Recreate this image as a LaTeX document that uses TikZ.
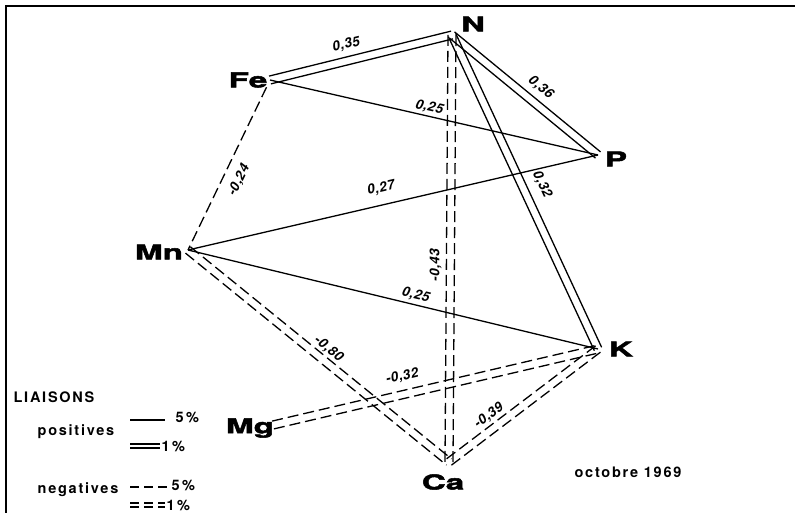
\documentclass[tikz,border=0pt]{standalone}
\usepackage{fontspec}
\setmainfont{TeX Gyre Heros}
\newfontfamily\elemfont[FakeBold=2.5,FakeStretch=1.62]{TeX Gyre Heros}
\newfontfamily\legfont[LetterSpace=12]{TeX Gyre Heros}
\newfontfamily\coeffont[LetterSpace=4]{TeX Gyre Heros}
\usetikzlibrary{calc}
\newcommand{\twin}[3][]{%
  \draw[#1] ($(#2)!4pt!90:(#3)$) -- ($(#3)!4pt!-90:(#2)$);
  \draw[#1] ($(#2)!4pt!-90:(#3)$) -- ($(#3)!4pt!90:(#2)$);}
\tikzset{
  elem/.style={font=\elemfont\bfseries\fontsize{20.5}{20.5}\selectfont, inner sep=0pt},
  coef/.style={font=\coeffont\bfseries\itshape\fontsize{13.5}{13.5}\selectfont, inner sep=1pt, sloped},
  legend/.style={font=\legfont\bfseries\fontsize{14.5}{14.5}\selectfont, inner sep=0pt},
  neg/.style={dash pattern=on 11pt off 5pt},
  negkey/.style={dash pattern=on 9pt off 5pt},
}
\begin{document}
\begin{tikzpicture}[x=1pt,y=-1pt,line width=1.3pt]
  \useasboundingbox (0,0) rectangle (795,513);
  \draw[line width=1.8pt] (6,513) -- (6,6) -- (795,6);
  \coordinate (n) at (452,35);
  \coordinate (fe) at (270,80);
  \coordinate (p) at (598,155);
  \coordinate (mn) at (188,250);
  \coordinate (k) at (598,349);
  \coordinate (mg) at (273,425);
  \coordinate (ca) at (449,462);
  \node[elem] (ln) at (473,24) {N};
  \node[elem] (lfe) at (248,80) {Fe};
  \node[elem] (lp) at (616,159) {P};
  \node[elem] (lmn) at (159,252) {Mn};
  \node[elem] (lk) at (621,349) {K};
  \node[elem] (lmg) at (250,428) {Mg};
  \node[elem] (lca) at (443,482) {Ca};
  \twin{fe}{n}
  \twin{n}{p}
  \twin{n}{k}
  \twin[neg]{n}{ca}
  \twin[neg]{mn}{ca}
  \twin[neg]{mg}{k}
  \twin[neg]{ca}{k}
  \draw (fe) -- (p);
  \draw (mn) -- (p);
  \draw (mn) -- (k);
  \draw[neg, shorten <=8pt] (fe) -- (mn);
  \path (fe) -- (n) node[coef, pos=.44, above=8pt] (c1) {0,35};
  \path (n) -- (p) node[coef, pos=.54, above=8pt] (c2) {0,36};
  \path (fe) -- (p) node[coef, pos=.48, above=1pt] (c3) {0,25};
  \path (n) -- (k) node[coef, pos=.5, above=11pt] (c4) {0,32};
  \path (fe) -- (mn) node[coef, pos=.55, below=8pt] (c5) {-0,24};
  \path (mn) -- (p) node[coef, pos=.48, above=9pt] (c6) {0,27};
  \path (ca) -- (n) node[coef, pos=.46, above=7pt] (c7) {-0,43};
  \path (mn) -- (k) node[coef, pos=.55, above=2pt] (c8) {0,25};
  \path (mn) -- (ca) node[coef, pos=.51, above=4pt] (c9) {-0,80};
  \path (mg) -- (k) node[coef, pos=.41, above=10pt] (c10) {-0,32};
  \path (ca) -- (k) node[coef, pos=.32, above=5pt] (c11) {-0,39};
  \node[legend, anchor=west] (liaisons) at (13,397) {LIAISONS};
  \node[legend] (positives) at (76,432) {positives};
  \node[legend] (negatives) at (78,490) {negatives};
  \draw (130,420) -- (165,420);
  \node[legend, anchor=west] (p5) at (175,418) {5\,\%};
  \draw (130,444) -- (160,444) (130,448) -- (160,448);
  \node[legend, anchor=west] (p1) at (161,447) {1\,\%};
  \draw[negkey] (130,487) -- (171,487);
  \node[legend, anchor=west] (n5) at (171,486) {5\,\%};
  \draw[negkey] (130,503) -- (165,503) (130,507) -- (165,507);
  \node[legend, anchor=west] (n1) at (166,506) {1\,\%};
  \node[legend] (date) at (628,472) {octobre 1969};
\end{tikzpicture}
\end{document}
